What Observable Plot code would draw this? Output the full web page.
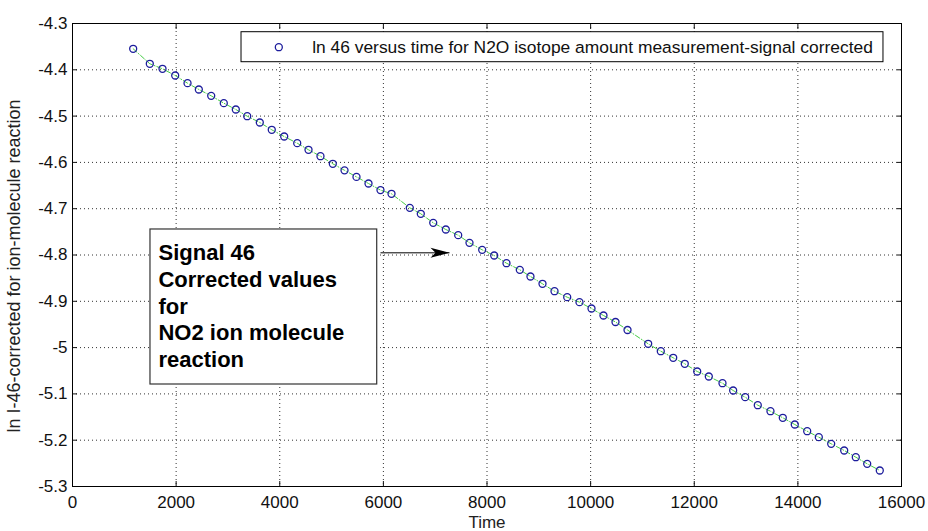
<!DOCTYPE html>
<html>
<head>
<meta charset="utf-8">
<script src="https://cdn.jsdelivr.net/npm/d3@7"></script>
<script src="https://cdn.jsdelivr.net/npm/@observablehq/plot@0.6"></script>
<style>
  html, body { margin: 0; padding: 0; background: #fff; }
  #chart { width: 928px; height: 531px; }
</style>
</head>
<body>
<div id="chart"></div>
<script>
// Signal 46 (ln I) after ion-molecule correction, sampled over time
const times = [
  1171, 1492, 1737, 1982, 2220, 2438, 2677, 2920, 3152, 3372,
  3615, 3846, 4086, 4337, 4555, 4786, 5024, 5250, 5481, 5713,
  5944, 6157, 6510, 6722, 6962, 7205, 7444, 7662, 7907, 8139,
  8376, 8633, 8839, 9071, 9303, 9548, 9785, 10017, 10248, 10480,
  10712, 11111, 11354, 11594, 11817, 12057, 12281, 12545, 12751, 12983,
  13226, 13471, 13709, 13940, 14180, 14404, 14643, 14894, 15118, 15338,
  15581
];
const values = [
  -4.3546, -4.3870, -4.3978, -4.4123, -4.4289, -4.4425, -4.4562, -4.4721, -4.4857, -4.5002,
  -4.5138, -4.5296, -4.5441, -4.5585, -4.5728, -4.5866, -4.6030, -4.6171, -4.6313, -4.6456,
  -4.6598, -4.6678, -4.6981, -4.7110, -4.7305, -4.7449, -4.7572, -4.7737, -4.7888, -4.8011,
  -4.8177, -4.8320, -4.8464, -4.8622, -4.8782, -4.8911, -4.9019, -4.9156, -4.9307, -4.9447,
  -4.9620, -4.9918, -5.0078, -5.0220, -5.0350, -5.0516, -5.0624, -5.0769, -5.0927, -5.1071,
  -5.1244, -5.1374, -5.1516, -5.1661, -5.1806, -5.1935, -5.2078, -5.2222, -5.2367, -5.2510,
  -5.2654
];

const xTicks = [0, 2000, 4000, 6000, 8000, 10000, 12000, 14000, 16000];
const yTicks = [-5.3, -5.2, -5.1, -5, -4.9, -4.8, -4.7, -4.6, -4.5, -4.4, -4.3];

const xLabel = "Time";
const yLabel = "ln I-46-corrected for ion-molecule reaction";
const legendLabel = "ln 46 versus time for N2O isotope amount measurement-signal corrected";
const noteLines = ["Signal 46", "Corrected values", "for", "NO2 ion molecule", "reaction"];

// placement of the legend and the text-box annotation, in data units
const legendBox = {x1: 3262, x2: 15652, y1: -4.3188, y2: -4.3836};
const legendKey = {x: 3982, y: -4.3512, tx: 4626};
const noteBox = {x1: 1505, x2: 5881, y1: -4.7449, y2: -5.0797};
const noteArrow = {x1: 5944, x2: 7276, y: -4.7953};

const data = times.map((t, i) => ({t, v: values[i]}));

const blue = "#1c1c9c";
const green = "#44cc44";
const font = "'Liberation Sans', Arial, Helvetica, sans-serif";
const fmtY = d => String(+d.toFixed(1));

// filled arrowhead pointing right, tip at the origin
const arrowHead = {
  draw(ctx) {
    ctx.moveTo(0, 0);
    ctx.lineTo(-19, -5);
    ctx.lineTo(-14, 0);
    ctx.lineTo(-19, 5);
    ctx.closePath();
  }
};

const chart = Plot.plot({
  width: 928,
  height: 531,
  marginLeft: 72,
  marginRight: 27,
  marginTop: 23,
  marginBottom: 45,
  style: {fontFamily: font, fontSize: "17px", background: "#fff", color: "#111"},
  x: {domain: [0, 16000]},
  y: {domain: [-5.3, -4.3]},
  marks: [
    Plot.gridX(xTicks, {stroke: "#333", strokeOpacity: 1, strokeDasharray: "1,3"}),
    Plot.gridY(yTicks, {stroke: "#333", strokeOpacity: 1, strokeDasharray: "1,3"}),
    Plot.axisX(xTicks, {anchor: "bottom", tickSize: -5, tickPadding: 14, tickFormat: d => String(d), fontSize: 17, label: null}),
    Plot.axisX(xTicks, {anchor: "top", tickSize: -5, tickFormat: () => "", label: null}),
    Plot.axisY(yTicks, {anchor: "left", tickSize: -5, tickPadding: 10, tickFormat: fmtY, fontSize: 17, label: null}),
    Plot.axisY(yTicks, {anchor: "right", tickSize: -5, tickFormat: () => "", label: null}),
    Plot.frame({stroke: "#000"}),

    // measured series with its connecting dash-dot line
    Plot.line(data, {x: "t", y: "v", stroke: green, strokeWidth: 1, strokeDasharray: "5,2,1,2"}),
    Plot.dot(data, {x: "t", y: "v", r: 3.5, stroke: blue, strokeWidth: 1.3, fill: "none"}),

    // legend
    Plot.rect([legendBox], {x1: "x1", x2: "x2", y1: "y1", y2: "y2", fill: "#fff", stroke: "#000"}),
    Plot.dot([legendKey], {x: "x", y: "y", r: 3.5, stroke: blue, strokeWidth: 1.3, fill: "none"}),
    Plot.text([legendKey], {x: "tx", y: "y", text: () => legendLabel, textAnchor: "start", fontSize: 17.4, fill: "#111"}),

    // text-box annotation with arrow
    Plot.rect([noteBox], {x1: "x1", x2: "x2", y1: "y1", y2: "y2", fill: "#fff", stroke: "#333", strokeWidth: 1.2}),
    Plot.text([noteBox], {x: "x1", y: "y1", text: () => noteLines.join("\n"), textAnchor: "start", lineAnchor: "top",
      dx: 8, dy: 12, lineHeight: 1.21, fontSize: 22, fontWeight: "bold", fill: "#000"}),
    Plot.link([noteArrow], {x1: "x1", x2: "x2", y1: "y", y2: "y", stroke: "#000", strokeWidth: 1}),
    Plot.dot([noteArrow], {x: "x2", y: "y", symbol: arrowHead, r: 4, fill: "#000", stroke: "none"}),

    // axis titles
    Plot.text([yLabel], {text: d => d, frameAnchor: "left", textAnchor: "middle", lineAnchor: "middle",
      rotate: -90, dx: -58, dy: 11, fontSize: 18, fill: "#222"}),
    Plot.text([xLabel], {text: d => d, frameAnchor: "bottom", textAnchor: "middle", lineAnchor: "middle",
      dy: 36, fontSize: 17, fill: "#222"})
  ]
});

document.getElementById("chart").appendChild(chart);
</script>
</body>
</html>
